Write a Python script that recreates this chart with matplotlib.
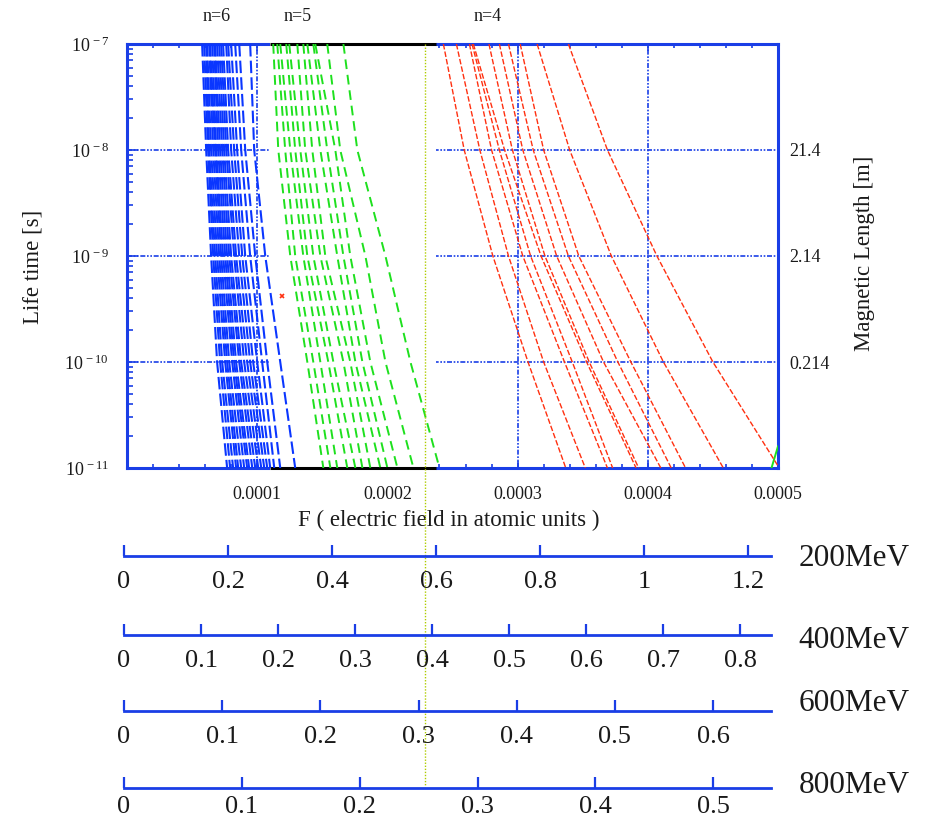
import matplotlib
matplotlib.use('Agg')
import matplotlib.pyplot as plt
import numpy as np
from matplotlib.patches import Rectangle
from matplotlib.transforms import blended_transform_factory
from matplotlib.ticker import FixedLocator, LogLocator, NullFormatter, NullLocator, MultipleLocator

plt.rcParams['font.family'] = ['Liberation Serif', 'DejaVu Serif']
plt.rcParams['mathtext.fontset'] = 'custom'
plt.rcParams['mathtext.rm'] = 'Liberation Serif'
plt.rcParams['mathtext.it'] = 'Liberation Serif:italic'
plt.rcParams['mathtext.bf'] = 'Liberation Serif:bold'

# ---------------- data ----------------
# lifetime levels [s] at which each curve's field value was read
lifetimes = [1e-7, 1e-8, 1e-9, 1e-10, 1e-11]
FIELD_UNIT = 1e-4  # field values below are in units of 1e-4 a.u.

# n=6 family (blue)
n6_curves = [
    [0.577, 0.608, 0.646, 0.692, 0.769],
    [0.592, 0.623, 0.662, 0.715, 0.792],
    [0.608, 0.631, 0.677, 0.731, 0.815],
    [0.615, 0.646, 0.692, 0.754, 0.838],
    [0.631, 0.662, 0.708, 0.769, 0.854],
    [0.638, 0.677, 0.723, 0.785, 0.877],
    [0.654, 0.685, 0.738, 0.808, 0.900],
    [0.669, 0.700, 0.754, 0.823, 0.923],
    [0.677, 0.715, 0.769, 0.838, 0.938],
    [0.692, 0.731, 0.785, 0.862, 0.962],
    [0.708, 0.746, 0.800, 0.877, 0.985],
    [0.723, 0.762, 0.823, 0.900, 1.008],
    [0.738, 0.777, 0.838, 0.923, 1.031],
    [0.762, 0.800, 0.862, 0.946, 1.054],
    [0.777, 0.823, 0.885, 0.969, 1.077],
    [0.800, 0.846, 0.908, 1.000, 1.100],
    [0.831, 0.877, 0.946, 1.038, 1.131],
    [0.862, 0.908, 0.985, 1.077, 1.177],
    [0.946, 0.977, 1.062, 1.177, 1.292],
]

# n=5 family (green)
n5_curves = [
    [1.123, 1.162, 1.254, 1.385, 1.508],
    [1.154, 1.215, 1.292, 1.431, 1.562],
    [1.177, 1.254, 1.354, 1.485, 1.615],
    [1.223, 1.292, 1.385, 1.546, 1.692],
    [1.246, 1.331, 1.431, 1.585, 1.754],
    [1.308, 1.369, 1.485, 1.662, 1.808],
    [1.354, 1.423, 1.523, 1.715, 1.869],
    [1.385, 1.485, 1.615, 1.754, 1.946],
    [1.431, 1.538, 1.662, 1.808, 2.000],
    [1.446, 1.600, 1.715, 1.869, 2.077],
    [1.538, 1.638, 1.831, 1.985, 2.200],
    [1.662, 1.769, 1.985, 2.177, 2.400],
]
n5_tail_field = [4.95, 5.00]
n5_tail_life = [1e-11, 1.6e-11]

# n=4 family (red)
n4_curves = [
    [2.43, 2.59, 2.81, 3.08, 3.37],
    [2.53, 2.71, 2.93, 3.20, 3.52],
    [2.63, 2.80, 3.04, 3.36, 3.69],
    [2.65, 2.86, 3.10, 3.42, 3.73],
    [2.66, 2.90, 3.18, 3.53, 3.91],
    [2.78, 2.96, 3.21, 3.55, 3.93],
    [2.86, 3.04, 3.30, 3.66, 4.10],
    [2.93, 3.12, 3.39, 3.77, 4.18],
    [3.02, 3.20, 3.47, 3.87, 4.29],
    [3.15, 3.40, 3.72, 4.12, 4.58],
    [3.39, 3.69, 4.07, 4.50, 5.01],
]

marker_field = [1.19]
marker_life = [4.2e-10]

family_labels = ["n=6", "n=5", "n=4"]
family_label_field = [0.69, 1.31, 2.77]

x_ticks = [1e-4, 2e-4, 3e-4, 4e-4, 5e-4]
x_tick_labels = ["0.0001", "0.0002", "0.0003", "0.0004", "0.0005"]
y_ticks = [1e-11, 1e-10, 1e-9, 1e-8, 1e-7]
y_tick_labels = [r"10$^{\,-11}$", r"10$^{\,-10}$", r"10$^{\,-9}$", r"10$^{\,-8}$", r"10$^{\,-7}$"]
mag_ticks = [1e-8, 1e-9, 1e-10]
mag_labels = ["21.4", "2.14", "0.214"]

marker_line_field = 2.29e-4

beam_energies = ["200MeV", "400MeV", "600MeV", "800MeV"]
scale_max = [1.244, 0.840, 0.659, 0.549]
scale_ticks = [
    [0, 0.2, 0.4, 0.6, 0.8, 1.0, 1.2],
    [0, 0.1, 0.2, 0.3, 0.4, 0.5, 0.6, 0.7, 0.8],
    [0, 0.1, 0.2, 0.3, 0.4, 0.5, 0.6],
    [0, 0.1, 0.2, 0.3, 0.4, 0.5],
]

# ---------------- style ----------------
W, H = 933, 822
BLUE = '#1a3ee6'
C_BLUE = '#0a36ff'
C_GREEN = '#1ee01e'
C_RED = '#ff3010'
TXT = '#1a1a1a'
BOX_F = (1.10e-4, 2.37e-4)

fig = plt.figure(figsize=(W / 100, H / 100), dpi=100)
ax = fig.add_axes([127 / W, 1 - 468 / H, (778 - 127) / W, (468 - 44) / H])
ax.set_yscale('log')
ax.set_xlim(0, 5e-4)
ax.set_ylim(1e-11, 1e-7)
ax.set_axisbelow(True)

ax.set_xticks(x_ticks)
ax.set_xticklabels(x_tick_labels)
ax.xaxis.set_minor_locator(MultipleLocator(2e-5))
ax.yaxis.set_major_locator(FixedLocator(y_ticks))
ax.set_yticklabels(y_tick_labels)
ax.yaxis.set_minor_locator(LogLocator(base=10, subs=np.arange(2, 10)))
ax.yaxis.set_minor_formatter(NullFormatter())

ax.tick_params(which='both', top=True, right=True, direction='in',
               color=BLUE, width=1.2, labelcolor=TXT)
ax.tick_params(axis='x', which='major', length=5, pad=13, labelsize=13)
ax.tick_params(axis='x', which='minor', length=3)
ax.tick_params(axis='y', which='major', length=8, pad=13, labelsize=13)
ax.tick_params(axis='y', which='minor', length=4.5)

ax.grid(True, which='major', color=BLUE, linestyle=(0, (3, 1, 1, 1, 1, 1)), linewidth=1.2)
for s in ax.spines.values():
    s.set_color(BLUE)
    s.set_linewidth(2.2)

bt = blended_transform_factory(ax.transData, ax.transAxes)
ax.add_patch(Rectangle((BOX_F[0], -0.012), BOX_F[1] - BOX_F[0], 1.024, transform=bt,
                       facecolor='white', edgecolor='none', zorder=2.6, clip_on=False))
for yy in (0, 1):
    ax.plot(BOX_F, [yy, yy], transform=bt, color='black', lw=2.2, zorder=2.7,
            clip_on=False, solid_capstyle='butt')

for c in n6_curves:
    ax.plot(np.array(c) * FIELD_UNIT, lifetimes, color=C_BLUE, lw=1.5,
            linestyle=(0, (6, 2)), zorder=3)
for c in n5_curves:
    ax.plot(np.array(c) * FIELD_UNIT, lifetimes, color=C_GREEN, lw=1.4,
            linestyle=(0, (5, 3)), zorder=3)
ax.plot(np.array(n5_tail_field) * FIELD_UNIT, n5_tail_life, color=C_GREEN, lw=1.4, zorder=3)
for c in n4_curves:
    ax.plot(np.array(c) * FIELD_UNIT, lifetimes, color=C_RED, lw=1.0,
            linestyle=(0, (4, 1.5)), zorder=3)
ax.plot(np.array(marker_field) * FIELD_UNIT, marker_life, 'x', color=C_RED,
        markersize=3.5, mew=1.2, zorder=3)

for lab, f in zip(family_labels, family_label_field):
    ax.text(f * FIELD_UNIT, 1.066, lab, transform=bt, ha='center', va='center',
            fontsize=13, color=TXT)

ax.set_xlabel("F ( electric field in atomic units )", fontsize=16.5, color=TXT)
ax.xaxis.set_label_coords(0.4946, -0.098)
ax.set_ylabel("Life time [s]", fontsize=16.5, color=TXT)
ax.yaxis.set_label_coords(-0.128, 0.474)

ax2 = ax.twinx()
ax2.set_yscale('log')
ax2.set_ylim(ax.get_ylim())
ax2.yaxis.set_major_locator(FixedLocator(mag_ticks))
ax2.set_yticklabels(mag_labels)
ax2.yaxis.set_minor_locator(NullLocator())
ax2.tick_params(axis='y', length=0, pad=8, labelsize=13, labelcolor=TXT)
for s in ax2.spines.values():
    s.set_visible(False)
ax2.set_ylabel("Magnetic Length [m]", fontsize=16.5, color=TXT)
ax2.yaxis.set_label_coords(1.117, 0.507)

# vertical marker line crossing the energy scales
fbt = blended_transform_factory(ax.transData, fig.transFigure)
ax.plot([marker_line_field, marker_line_field], [1 - 44 / H, 1 - 785 / H], transform=fbt,
        color='#b0cc00', lw=1.0, linestyle=(0, (1, 1.2)), clip_on=False, zorder=5)

# energy scales
line_y = [556, 635, 711, 788]
label_y = [558, 640, 703, 785]
label_pad = [10.5, 10.5, 10.5, 6.0]
for name, mx, ticks, yl, ty, pd in zip(beam_energies, scale_max, scale_ticks,
                                       line_y, label_y, label_pad):
    sax = fig.add_axes([124 / W, 1 - yl / H, (771 - 124) / W, 0.02])
    sax.patch.set_visible(False)
    for k in ('top', 'left', 'right'):
        sax.spines[k].set_visible(False)
    sax.spines['bottom'].set_color(BLUE)
    sax.spines['bottom'].set_linewidth(2)
    sax.set_xlim(0, mx)
    sax.set_yticks([])
    sax.set_xticks(ticks)
    sax.set_xticklabels(['%g' % t for t in ticks])
    sax.tick_params(axis='x', direction='in', length=8, width=1.6, color=BLUE,
                    labelsize=19, pad=pd, labelcolor=TXT)
    fig.text(854 / W, 1 - ty / H, name, ha='center', va='center',
             fontsize=22.5, color=TXT)

fig.savefig('out.png', dpi=100)
